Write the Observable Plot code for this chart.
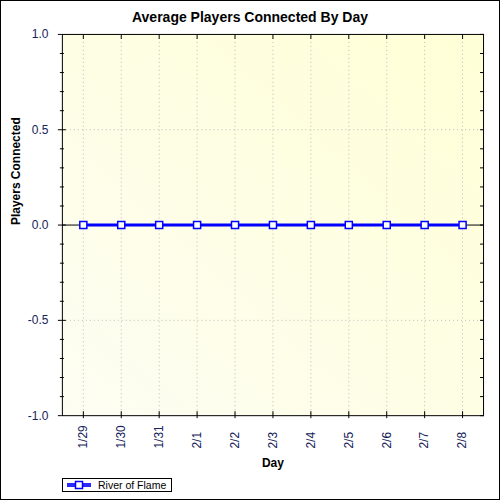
<!DOCTYPE html>
<html>
<head>
<meta charset="utf-8">
<script src="https://cdn.jsdelivr.net/npm/d3@7"></script>
<script src="https://cdn.jsdelivr.net/npm/@observablehq/plot@0.6"></script>
<style>
  body { margin: 0; background: white; }
  #wrap { position: relative; width: 500px; height: 500px; border: 1px solid black; box-sizing: border-box; font-family: Arial, "Liberation Sans", sans-serif; }
  #chart { position: absolute; left: -1px; top: -1px; }
  #title { position: absolute; left: 0; width: 100%; top: 8px; text-align: center; font-weight: bold; font-size: 14px; color: black; }
  #legend { position: absolute; left: 61px; top: 477px; width: 110px; height: 14px; border: 1px solid black; box-sizing: border-box; font-size: 10.5px; line-height: 12px; background: white; }
  #legend svg { position: absolute; left: 3px; top: 1px; }
  #legend span { position: absolute; left: 35px; top: 0px; }
</style>
</head>
<body>
<div id="wrap">
  <div id="chart"></div>
  <div id="title">Average Players Connected By Day</div>
  <div id="legend">
    <svg width="26" height="10">
      <rect x="1" y="3" width="24" height="4" fill="#2a2aff"></rect>
      <rect x="9.5" y="1.5" width="7" height="7" fill="white" stroke="#0000ff" stroke-width="1.5"></rect>
    </svg>
    <span>River of Flame</span>
  </div>
</div>
<script>
const days = ["1/29", "1/30", "1/31", "2/1", "2/2", "2/3", "2/4", "2/5", "2/6", "2/7", "2/8"]
const players = [0, 0, 0, 0, 0, 0, 0, 0, 0, 0, 0]
const yMajor = [-1, -0.5, 0, 0.5, 1]
const yInner = [-0.5, 0, 0.5]
const yMinor = [-0.9, -0.8, -0.7, -0.6, -0.4, -0.3, -0.2, -0.1, 0.1, 0.2, 0.3, 0.4, 0.6, 0.7, 0.8, 0.9]
const yAll = [-1, -0.9, -0.8, -0.7, -0.6, -0.5, -0.4, -0.3, -0.2, -0.1, 0, 0.1, 0.2, 0.3, 0.4, 0.5, 0.6, 0.7, 0.8, 0.9, 1]

const data = days.map((day, i) => ({day, value: players[i]}))

const labelColor = '#14235a'

// gradient for the plot area
const bgDefs = () => {
  const defs = d3.create('svg:defs')
  const g = defs.append('linearGradient').attr('id', 'plotbg')
    .attr('x1', '0').attr('y1', '1').attr('x2', '1').attr('y2', '0')
  g.append('stop').attr('offset', '0').attr('stop-color', '#fdfdf3')
  g.append('stop').attr('offset', '1').attr('stop-color', '#ffffd6')
  return defs.node()
}

const chart = Plot.plot({
  width: 500,
  height: 500,
  marginTop: 34,
  marginLeft: 62,
  marginRight: 16,
  marginBottom: 84,
  style: {background: 'transparent', fontFamily: 'Arial, "Liberation Sans", sans-serif', fontSize: '12px'},
  x: {type: 'point', domain: days, padding: 0.5, axis: null},
  y: {domain: [-1, 1], axis: null},
  marks: [
    bgDefs,
    Plot.frame({fill: 'url(#plotbg)'}),
    Plot.ruleX(days, {stroke: '#bcbcbc', strokeDasharray: '1,3'}),
    Plot.ruleY([-0.5, 0.5], {stroke: '#bcbcbc', strokeDasharray: '1,3'}),
    Plot.ruleY([0], {stroke: 'black'}),
    Plot.line(data, {x: 'day', y: 'value', stroke: '#0000ff', strokeWidth: 3}),
    Plot.dot(data, {x: 'day', y: 'value', symbol: 'square', r: 4, stroke: '#0000ff', fill: 'white', strokeWidth: 1.5}),
    Plot.frame({stroke: 'black'}),
    // left axis
    Plot.axisY(yMajor, {anchor: 'left', tickSize: 4, tickPadding: 10, tickFormat: d => d.toFixed(1), fill: labelColor, stroke: 'black', fontSize: 12, label: null}),
    Plot.axisY(yInner, {anchor: 'left', tickSize: 4, dx: 4, fill: 'none', stroke: 'black', label: null}),
    Plot.axisY(yMinor, {anchor: 'left', tickSize: 4, dx: 2, fill: 'none', stroke: 'black', label: null}),
    // right axis, ticks inside
    Plot.axisY(yAll, {anchor: 'right', tickSize: 4, dx: -4, fill: 'none', stroke: 'black', label: null}),
    // top and bottom ticks
    Plot.axisX(days, {anchor: 'top', tickSize: 4, dy: 4, fill: 'none', stroke: 'black', label: null}),
    Plot.axisX(days, {anchor: 'bottom', tickSize: 7, dy: -4, fill: 'none', stroke: 'black', label: null}),
    Plot.text(days, {x: d => d, text: d => d, frameAnchor: 'bottom', dy: 33, rotate: -90, textAnchor: 'start', lineAnchor: 'middle', fill: labelColor, fontSize: 12}),
    Plot.text(['Day'], {frameAnchor: 'bottom', dy: 48, lineAnchor: 'middle', fontWeight: 'bold', fontSize: 12, fill: 'black'}),
    Plot.text(['Players Connected'], {frameAnchor: 'left', dx: -46, rotate: -90, fontWeight: 'bold', fontSize: 12, fill: 'black'})
  ]
})

d3.select('#chart').append(() => chart)
</script>
</body>
</html>
